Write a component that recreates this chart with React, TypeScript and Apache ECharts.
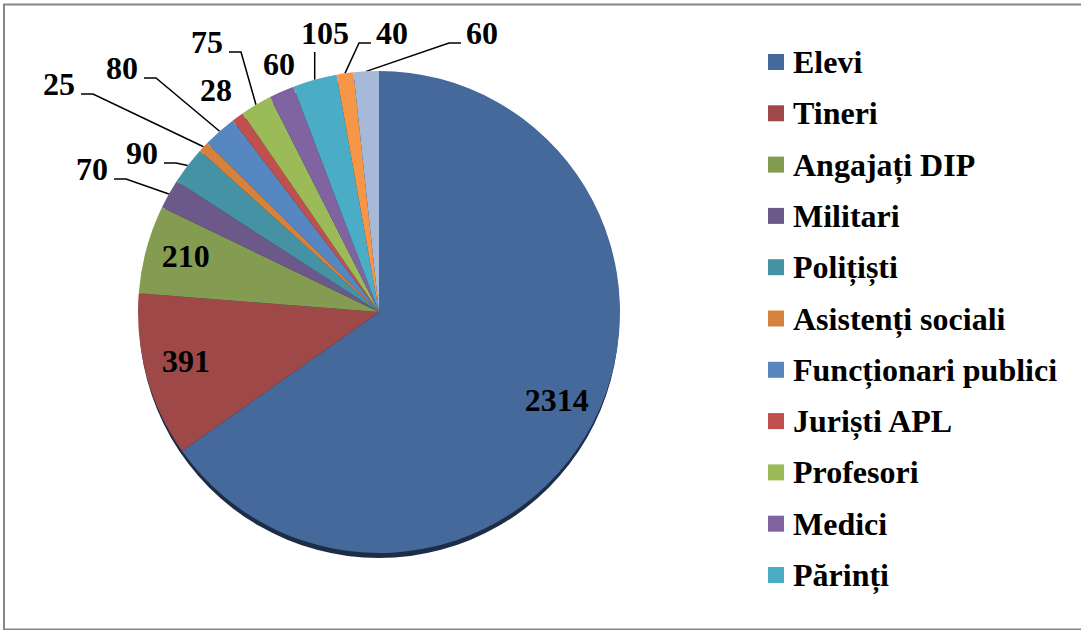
import React, { useEffect, useRef } from "react";
import * as echarts from "echarts";

// ---------- data ----------
const categories = [
  "Elevi",
  "Tineri",
  "Angajați DIP",
  "Militari",
  "Polițiști",
  "Asistenți sociali",
  "Funcționari publici",
  "Juriști APL",
  "Profesori",
  "Medici",
  "Părinți",
  "Alte categorii (1)",
  "Alte categorii (2)",
];
const values = [2314, 391, 210, 70, 90, 25, 80, 28, 75, 60, 105, 40, 60];
const legendCount = 11; // only the first 11 names fit in the legend

// ---------- styles ----------
const colors = [
  "#44699A",
  "#9E4947",
  "#849C51",
  "#6C5889",
  "#4592A5",
  "#D7823C",
  "#5687C0",
  "#C0504D",
  "#9BBB59",
  "#8064A2",
  "#4BACC6",
  "#F79646",
  "#A6B9D9",
];

const CX = 379;
const CY = 312;
const R = 241;
const INSIDE_K = 1.62; // inside labels pushed outward from the default half-radius
const FONT = "'Liberation Serif', 'Times New Roman', serif";
const FS = 32;

// outside label placement: [centerX, centerY, leader kind]
const labelSpots: Record<number, [number, number, string]> = {
  3: [92, 169, "right"],
  4: [142, 153, "right"],
  5: [59, 84, "right"],
  6: [122, 68, "right"],
  7: [216, 90, "none"],
  8: [207, 42, "right"],
  9: [279, 64, "none"],
  10: [325, 33, "down"],
  11: [392, 33, "left"],
  12: [482, 33, "left"],
};

const total = values.reduce((a, b) => a + b, 0);
function edgePoint(i: number): [number, number] {
  let before = 0;
  for (let k = 0; k < i; k++) before += values[k];
  const a = ((before + values[i] / 2) / total) * Math.PI * 2;
  return [CX + R * Math.sin(a), CY - R * Math.cos(a)];
}

export default function App() {
  const ref = useRef<HTMLDivElement>(null);

  useEffect(() => {
    if (!ref.current) return;
    const chart = echarts.init(ref.current, null, { renderer: "svg" });

    const data = categories.map((name, i) => {
      const inside = !labelSpots[i];
      const noLine = labelSpots[i] && labelSpots[i][2] === "none";
      return {
        name,
        value: values[i],
        itemStyle: { color: colors[i] },
        label: { position: inside ? "inside" : "outside" },
        labelLine: { show: !inside && !noLine },
      };
    });

    chart.setOption({
      animation: false,
      backgroundColor: "#ffffff",
      graphic: [
        {
          type: "rect",
          shape: { x: 4, y: 4.5, width: 1100, height: 625 },
          style: { fill: "none", stroke: "#868686", lineWidth: 2 },
          silent: true,
          z: -10,
        },
      ],
      legend: {
        data: categories.slice(0, legendCount),
        orient: "vertical",
        left: 768,
        top: 46,
        padding: 0,
        itemWidth: 16,
        itemHeight: 16,
        itemGap: 19.3,
        icon: "rect",
        selectedMode: false,
        textStyle: {
          fontFamily: FONT,
          fontWeight: "bold",
          fontSize: FS,
          lineHeight: 32,
          color: "#000",
          padding: [0, 0, 0, 4],
        },
      },
      series: [
        {
          // dark rim beneath the pie (3D edge)
          type: "pie",
          silent: true,
          center: [CX, CY + 6],
          radius: R - 1,
          startAngle: 90,
          label: { show: false },
          labelLine: { show: false },
          data: [{ name: "__rim", value: 1, itemStyle: { color: "#1c2d47" } }],
          z: 1,
        },
        {
          type: "pie",
          center: [CX, CY],
          radius: R,
          startAngle: 90,
          clockwise: true,
          avoidLabelOverlap: false,
          silent: true,
          z: 2,
          itemStyle: { borderWidth: 0 },
          label: {
            show: true,
            formatter: "{c}",
            fontFamily: FONT,
            fontWeight: "bold",
            fontSize: FS,
            color: "#000",
          },
          labelLine: {
            show: true,
            length: 10,
            length2: 10,
            lineStyle: { color: "#000", width: 1.5 },
          },
          labelLayout: (p: any) => {
            const i = p.dataIndex;
            const spot = labelSpots[i];
            const lr = p.labelRect;
            if (!spot) {
              const lx = lr.x + lr.width / 2;
              const ly = lr.y + lr.height / 2;
              return {
                x: CX + (lx - CX) * INSIDE_K,
                y: CY + (ly - CY) * INSIDE_K - 4,
                align: "center",
                verticalAlign: "middle",
              };
            }
            const [x, y, kind] = spot;
            const w = lr.width;
            const edge: [number, number] =
              p.labelLinePoints && p.labelLinePoints[0]
                ? [p.labelLinePoints[0][0], p.labelLinePoints[0][1]]
                : edgePoint(i);
            let pts: number[][] | undefined;
            if (kind === "right") {
              const sx = x + w / 2 + 6;
              pts = [[sx, y + 10], [sx + 12, y + 10], edge];
            } else if (kind === "left") {
              const sx = x - w / 2 - 5;
              pts = [[sx, y + 10], [sx - 12, y + 10], edge];
            } else if (kind === "down") {
              pts = [[edge[0], y + 19], [edge[0], (y + 19 + edge[1]) / 2], edge];
            }
            const out: any = { x, y, align: "center", verticalAlign: "middle" };
            if (pts) out.labelLinePoints = pts;
            return out;
          },
          data,
        },
      ],
    });

    return () => chart.dispose();
  }, []);

  return (
    <div
      ref={ref}
      style={{ position: "fixed", left: 0, top: 0, width: 1081, height: 630, background: "#fff" }}
    />
  );
}
